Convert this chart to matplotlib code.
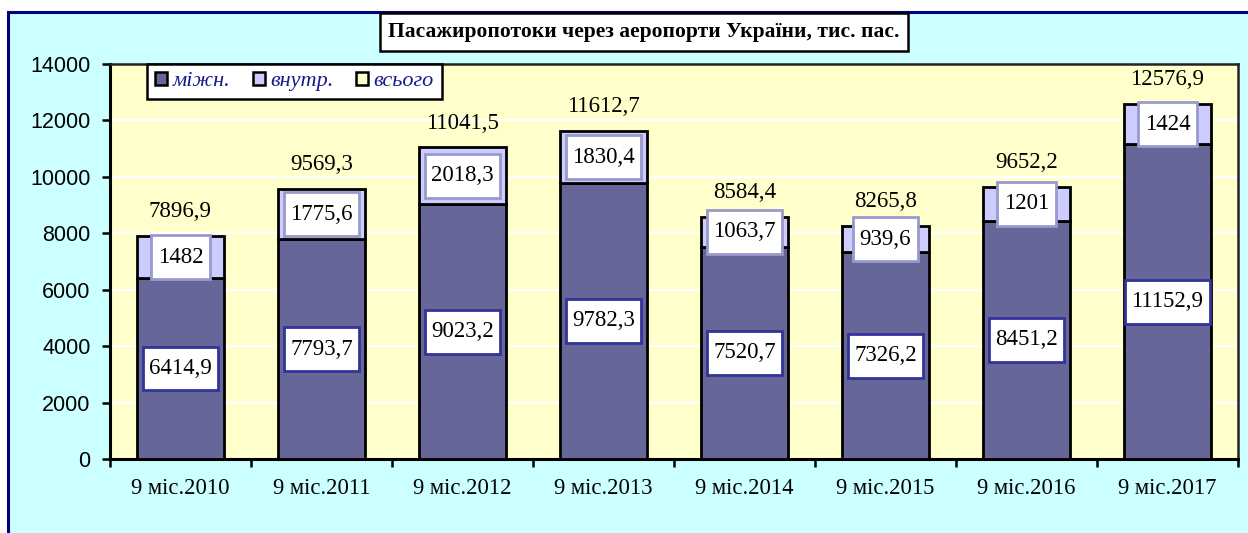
import matplotlib
matplotlib.use('Agg')
import matplotlib.pyplot as plt
from matplotlib.patches import Patch, Rectangle
from matplotlib.path import Path
import numpy as np

years = ['9 міс.2010', '9 міс.2011', '9 міс.2012', '9 міс.2013',
         '9 міс.2014', '9 міс.2015', '9 міс.2016', '9 міс.2017']
intl = [6414.9, 7793.7, 9023.2, 9782.3, 7520.7, 7326.2, 8451.2, 11152.9]
domestic = [1482, 1775.6, 2018.3, 1830.4, 1063.7, 939.6, 1201, 1424]
total = [7896.9, 9569.3, 11041.5, 11612.7, 8584.4, 8265.8, 9652.2, 12576.9]

W, H = 1248, 533


def fmt(v):
    s = ('%.1f' % v).rstrip('0').rstrip('.')
    return s.replace('.', ',')


def tallbox(x0, y0, width, height, mutation_size):
    # Excel-like label box: more padding top/bottom than left/right
    px = 0.28 * mutation_size
    py = 0.5 * mutation_size
    x0, y0 = x0 - px, y0 - py
    x1, y1 = x0 + width + 2 * px, y0 + height + 2 * py
    return Path([(x0, y0), (x1, y0), (x1, y1), (x0, y1), (x0, y0)], closed=True)


fig = plt.figure(figsize=(W / 100, H / 100), dpi=100)
fig.patch.set_facecolor('white')

# outer chart area (light cyan with navy border)
bg = fig.add_axes([0, 0, 1, 1], zorder=-10)
bg.set_xlim(0, W)
bg.set_ylim(0, H)
bg.axis('off')
bg.add_patch(Rectangle((8, -20), W + 20, H - 12 + 20, facecolor='#CCFFFF',
                       edgecolor='#000080', linewidth=2.2))

ax = fig.add_axes([110 / W, (H - 459) / H, (1238 - 110) / W, (459 - 64) / H])
ax.set_facecolor('#FFFFCC')

x = np.arange(len(years))
bw = 0.62
ax.bar(x, intl, bw, color='#666699', edgecolor='black', linewidth=2, zorder=3)
ax.bar(x, domestic, bw, bottom=intl, color='#CCCCFF', edgecolor='black',
       linewidth=2, zorder=3)

serif = 'Liberation Serif'
for i in range(len(years)):
    ax.text(x[i], intl[i] / 2, fmt(intl[i]), ha='center', va='center',
            fontsize=16.5, family=serif, zorder=5,
            bbox=dict(boxstyle=tallbox, fc='white', ec='#333399', lw=2))
    ax.text(x[i], intl[i] + domestic[i] / 2, fmt(domestic[i]), ha='center',
            va='center', fontsize=16.5, family=serif, zorder=5,
            bbox=dict(boxstyle=tallbox, fc='white', ec='#9999CC', lw=2))
    ax.annotate(fmt(total[i]), (x[i], total[i]), xytext=(0, 10),
                textcoords='offset points', ha='center', va='bottom',
                fontsize=16.5, family=serif, zorder=5)

ax.set_xlim(-0.5, len(years) - 0.5)
ax.set_ylim(0, 14000)
ax.set_yticks(np.arange(0, 14001, 2000))
ax.yaxis.grid(True, color='white', linewidth=1.6, zorder=1)
ax.set_axisbelow(True)
ax.tick_params(axis='y', labelsize=15.5, length=6, width=1.8, direction='out',
               pad=8)
for lab in ax.get_yticklabels():
    lab.set_family('Liberation Sans')

ax.set_xticks(x)
ax.set_xticklabels(years, family=serif, fontsize=16.3)
ax.set_xticks(np.arange(-0.5, len(years)), minor=True)
ax.tick_params(axis='x', which='major', length=0, pad=14)
ax.tick_params(axis='x', which='minor', length=6, width=1.8, direction='out')

for side in ['left', 'bottom']:
    ax.spines[side].set_linewidth(2.2)
    ax.spines[side].set_color('black')
for side in ['top', 'right']:
    ax.spines[side].set_linewidth(1.8)
    ax.spines[side].set_color('#222222')

handles = [Patch(fc='#666699', ec='black', lw=1.8, label='міжн.'),
           Patch(fc='#CCCCFF', ec='black', lw=1.8, label='внутр.'),
           Patch(fc='#FFFFCC', ec='black', lw=1.8, label='всього')]
leg = fig.legend(handles=handles, loc='upper left',
                 bbox_to_anchor=(147 / W, (H - 64) / H), ncol=3,
                 prop={'family': serif, 'style': 'italic', 'size': 16},
                 handlelength=0.55, handleheight=0.55, handletextpad=0.25,
                 columnspacing=1.0, borderpad=0.35, borderaxespad=0,
                 fancybox=False, framealpha=1, edgecolor='black')
leg.get_frame().set_linewidth(1.8)
for t in leg.get_texts():
    t.set_color('#1A1A8C')

fig.text(644 / W, (H - 32) / H,
         'Пасажиропотоки через аеропорти України, тис. пас.',
         ha='center', va='center', family=serif, fontweight='bold', fontsize=15.5,
         bbox=dict(boxstyle='square,pad=0.4', fc='white', ec='black', lw=1.8))

fig.savefig('out.png', dpi=100, facecolor=fig.get_facecolor())
